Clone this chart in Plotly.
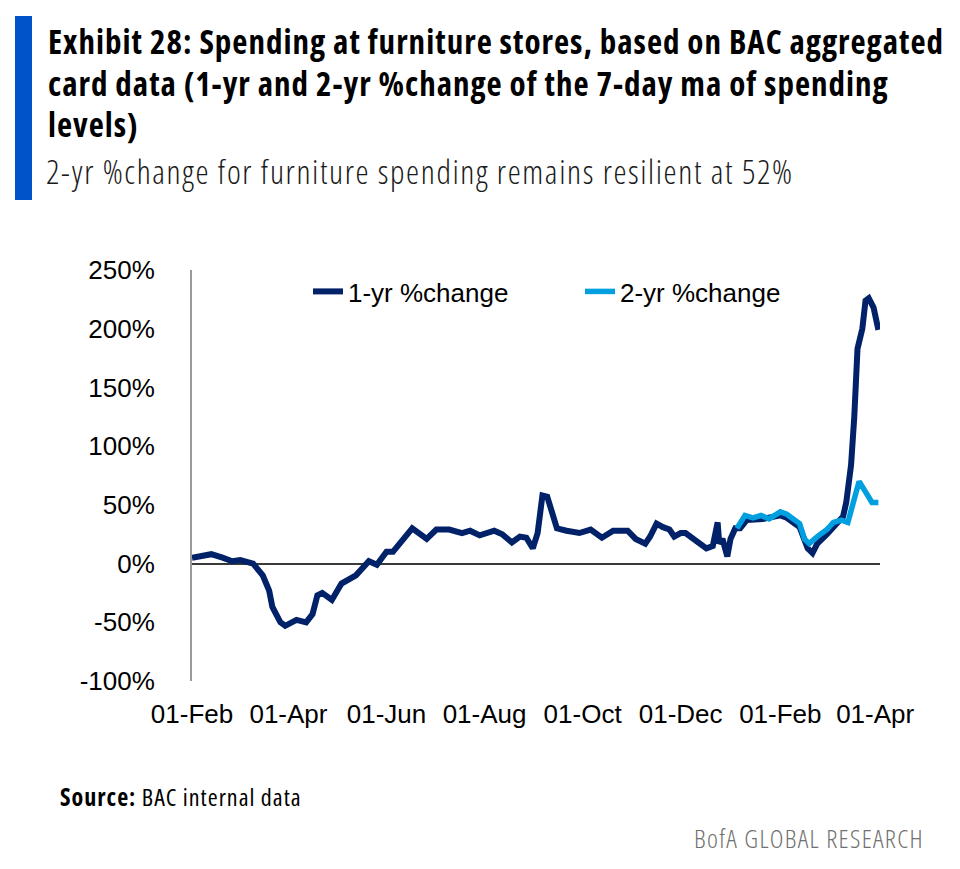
import plotly.graph_objects as go

# ---------------- data ----------------
one_yr_dates = [
    "2020-02-01", "2020-02-07", "2020-02-13", "2020-02-20", "2020-02-26", "2020-03-02",
    "2020-03-10", "2020-03-16", "2020-03-20", "2020-03-22", "2020-03-27", "2020-03-30",
    "2020-04-06", "2020-04-12", "2020-04-16", "2020-04-19", "2020-04-22", "2020-04-28",
    "2020-05-04", "2020-05-13", "2020-05-21", "2020-05-26", "2020-06-01", "2020-06-05",
    "2020-06-17", "2020-06-26", "2020-07-02", "2020-07-10", "2020-07-18", "2020-07-23",
    "2020-07-29", "2020-08-07", "2020-08-12", "2020-08-18", "2020-08-23", "2020-08-27",
    "2020-08-31", "2020-09-03", "2020-09-06", "2020-09-09", "2020-09-12", "2020-09-15",
    "2020-09-21", "2020-09-29", "2020-10-06", "2020-10-13", "2020-10-20", "2020-10-29",
    "2020-11-03", "2020-11-09", "2020-11-12", "2020-11-16", "2020-11-20", "2020-11-24",
    "2020-11-27", "2020-12-01", "2020-12-04", "2020-12-11", "2020-12-17", "2020-12-21",
    "2020-12-24", "2020-12-25", "2020-12-27", "2020-12-30", "2021-01-01", "2021-01-04",
    "2021-01-07", "2021-01-11", "2021-01-21", "2021-02-01", "2021-02-05", "2021-02-13",
    "2021-02-18", "2021-02-21", "2021-02-24", "2021-03-02", "2021-03-08", "2021-03-12",
    "2021-03-14", "2021-03-17", "2021-03-19", "2021-03-21", "2021-03-24", "2021-03-26",
    "2021-03-28", "2021-03-31", "2021-04-03",
]
one_yr_values = [
    5, 6, 8, 5, 2, 3,
    0, -10, -23, -37, -50, -53,
    -48, -50, -43, -27, -25, -31,
    -17, -10, 2, -1, 10, 10,
    30, 21, 29, 29, 26, 28,
    24, 28, 25, 18, 23, 22,
    13, 26, 58, 57, 41, 30,
    28, 26, 29, 22, 28, 28,
    21, 17, 23, 34, 31, 29,
    23, 26, 26, 19, 13, 15,
    35, 17, 21, 6, 21, 30,
    30, 37, 38, 41, 39, 31,
    13, 9, 17, 25, 33, 40,
    52, 84, 125, 183, 200, 224,
    226, 218, 199,
]

two_yr_dates = [
    "2021-01-05", "2021-01-10", "2021-01-15", "2021-01-20", "2021-01-25", "2021-02-01",
    "2021-02-05", "2021-02-09", "2021-02-13", "2021-02-16", "2021-02-19", "2021-02-24",
    "2021-03-02", "2021-03-06", "2021-03-11", "2021-03-15", "2021-03-18", "2021-03-22",
    "2021-03-26", "2021-03-30", "2021-04-03",
]
two_yr_values = [
    30, 41, 39, 41, 38, 44,
    42, 38, 34, 21, 17, 23,
    29, 35, 37, 35, 52, 70,
    61, 52, 52,
]

x_tick_vals = ["2020-02-01", "2020-04-01", "2020-06-01", "2020-08-01", "2020-10-01",
               "2020-12-01", "2021-02-01", "2021-04-01"]
x_tick_text = ["01-Feb", "01-Apr", "01-Jun", "01-Aug", "01-Oct", "01-Dec", "01-Feb", "01-Apr"]
y_tick_vals = [-100, -50, 0, 50, 100, 150, 200, 250]
y_tick_text = [f"{v}%" for v in y_tick_vals]

series_names = ["1-yr %change", "2-yr %change"]

title_lines = ["Exhibit 28: Spending at furniture stores, based on BAC aggregated",
               "card data (1-yr and 2-yr %change of the 7-day ma of spending",
               "levels)"]
subtitle_text = "2-yr %change for furniture spending remains resilient at 52%"
source_label = "Source:"
source_text = "BAC internal data"
brand_text = "BofA GLOBAL RESEARCH"

# ---------------- styling ----------------
OFF = 8                      # page body margin
W, H = 944, 853
ML, MR, MT, MB = 184, 72, 262, 180
PW, PH = W - ML - MR, H - MT - MB

NAVY = "#012169"
LIGHT = "#00A0E0"
BAR = "#0053C8"
ARIAL = "Liberation Sans, Arial, sans-serif"
OPEN = "Open Sans, Noto Sans, Roboto, sans-serif"


def cond(text, spacing):
    return f'<span style="font-stretch:condensed;letter-spacing:{spacing}px">{text}</span>'


def px(x):
    return (x - OFF - ML) / PW


def py(y):
    return (H - MB - (y - OFF)) / PH


fig = go.Figure()
fig.add_trace(go.Scatter(
    x=one_yr_dates, y=one_yr_values, mode="lines", name=series_names[0],
    line=dict(color=NAVY, width=6),
))
fig.add_trace(go.Scatter(
    x=two_yr_dates, y=two_yr_values, mode="lines", name=series_names[1],
    line=dict(color=LIGHT, width=5.5),
))

fig.update_layout(
    width=W, height=H,
    margin=dict(l=ML, r=MR, t=MT, b=MB, pad=0),
    paper_bgcolor="white", plot_bgcolor="white",
    font=dict(family=ARIAL, color="black"),
    showlegend=True,
    legend=dict(
        orientation="h", x=px(308), xanchor="left", y=py(268), yanchor="top",
        font=dict(size=26, family=ARIAL, color="black"),
        bgcolor="rgba(0,0,0,0)", entrywidth=227, entrywidthmode="pixels",
        itemwidth=30,
    ),
    xaxis=dict(
        type="date", range=["2020-02-01", "2021-04-04"],
        tickmode="array", tickvals=x_tick_vals, ticktext=x_tick_text, tickangle=0,
        tickfont=dict(size=26, family=ARIAL, color="black"),
        showgrid=False, showline=False, zeroline=False,
        ticks="outside", ticklen=10, tickcolor="rgba(0,0,0,0)",
    ),
    yaxis=dict(
        range=[-100, 250], tickmode="array", tickvals=y_tick_vals, ticktext=y_tick_text,
        tickfont=dict(size=26, family=ARIAL, color="black"),
        showgrid=False, showline=True, linecolor="#9a9a9a", linewidth=2,
        zeroline=True, zerolinecolor="#3a3a3a", zerolinewidth=2,
        ticks="outside", ticklen=30, tickcolor="rgba(0,0,0,0)",
    ),
)

# blue accent bar
fig.add_shape(type="rect", xref="paper", yref="paper",
              x0=px(15), x1=px(32), y0=py(200), y1=py(16),
              fillcolor=BAR, line=dict(width=0), layer="above")

title_tops = [17, 58.5, 100]
for line, top in zip(title_lines, title_tops):
    fig.add_annotation(xref="paper", yref="paper", x=px(46), y=py(top),
                       xanchor="left", yanchor="top",
                       text=cond(line, 1.0),
                       showarrow=False, align="left",
                       font=dict(size=33, family=OPEN, color="black", weight=700))
fig.add_annotation(xref="paper", yref="paper", x=px(44), y=py(147), xanchor="left", yanchor="top",
                   text=cond(subtitle_text, 1.6), showarrow=False, align="left",
                   font=dict(size=33, family=OPEN, color="#1a1a1a", weight=300))
fig.add_annotation(xref="paper", yref="paper", x=px(58), y=py(778), xanchor="left", yanchor="top",
                   text=cond(f"<b>{source_label}</b> {source_text}", 1.0),
                   showarrow=False, align="left",
                   font=dict(size=24, family=OPEN, color="black", weight=400))
fig.add_annotation(xref="paper", yref="paper", x=px(926), y=py(818), xanchor="right", yanchor="top",
                   text=cond(brand_text, 1.3), showarrow=False, align="right",
                   font=dict(size=26, family=OPEN, color="#707070", weight=300))

fig.write_html("out.html")
